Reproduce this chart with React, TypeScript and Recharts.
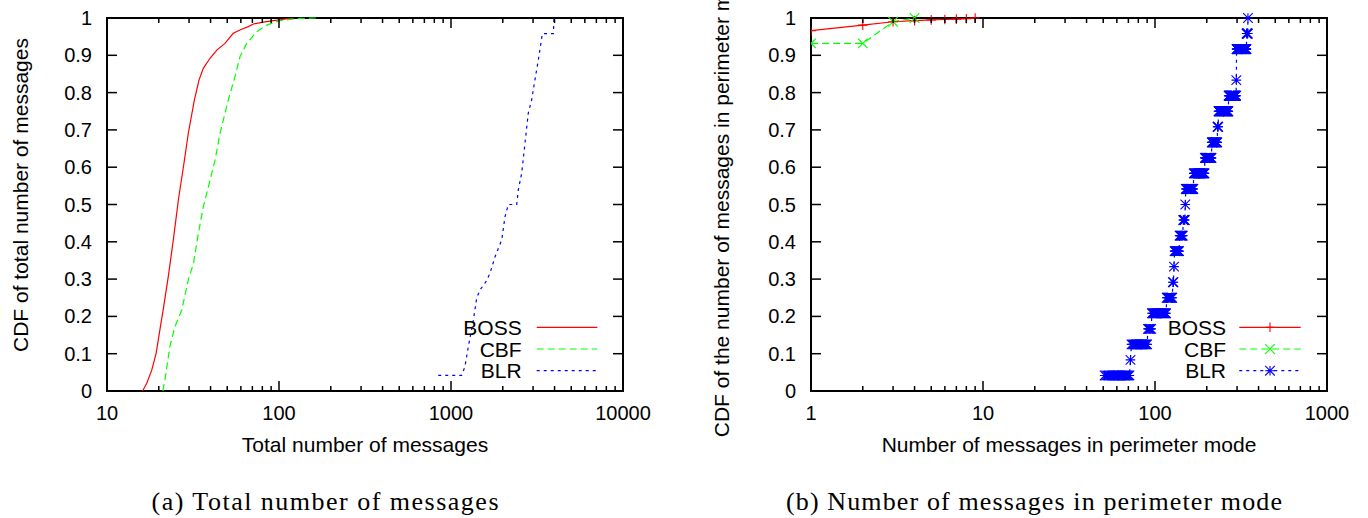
import React from 'react';
import { LineChart, Line, XAxis, YAxis, Legend, ReferenceArea } from 'recharts';

const SANS = '"Liberation Sans", Arial, Helvetica, sans-serif';
const SERIF = '"Liberation Serif", "Times New Roman", serif';

const RED = '#ff0000';
const GREEN = '#00ff00';
const BLUE = '#0000ff';

// ---------------- Panel (a): total number of messages ----------------
const bossTotalX = [16.1, 17.0, 18.2, 19.3, 20.3, 21.2, 22.7, 24.3, 26.0, 28.0, 29.7, 32.2, 34.3, 36.3, 39.7, 43.5, 48.5, 54.2, 60.6, 66.3, 70.9, 81.1, 92.6, 121];
const bossTotalCdf = [0, 0.02, 0.056, 0.101, 0.164, 0.217, 0.306, 0.405, 0.512, 0.61, 0.691, 0.78, 0.834, 0.865, 0.892, 0.914, 0.932, 0.959, 0.97, 0.977, 0.984, 0.989, 0.993, 1.0];

const cbfTotalX = [21.1, 21.7, 23.2, 24.8, 27.2, 29.7, 31.8, 34.0, 36.3, 38.0, 42.5, 45.4, 50.7, 55.5, 59.3, 64.9, 74.1, 84.7, 101, 132, 166];
const cbfTotalCdf = [0, 0.029, 0.119, 0.172, 0.217, 0.298, 0.342, 0.423, 0.494, 0.53, 0.619, 0.691, 0.78, 0.843, 0.896, 0.932, 0.963, 0.981, 0.993, 0.999, 1.0];

const blrTotalX = [843, 1153, 1205, 1261, 1349, 1410, 1475, 1597, 1686, 1803, 1972, 2060, 2154, 2410, 2462, 2576, 2692, 2814, 2942, 3076, 3218, 3397, 3936, 3971];
const blrTotalCdf = [0.042, 0.042, 0.065, 0.119, 0.19, 0.249, 0.271, 0.293, 0.316, 0.36, 0.405, 0.467, 0.5, 0.5, 0.539, 0.584, 0.664, 0.745, 0.78, 0.834, 0.887, 0.958, 0.958, 1.0];

// ---------------- Panel (b): messages in perimeter mode ----------------
const bossPerimX = [1, 2, 3, 4, 5, 6, 7, 8, 9];
const bossPerimCdf = [0.966, 0.981, 0.99, 0.993, 0.995, 0.996, 0.997, 0.998, 1.0];

const cbfPerimX = [1, 2, 3, 4];
const cbfPerimCdf = [0.932, 0.932, 0.99, 1.0];

// BLR per-node sample values (CDF is plotted at every integer between min and max)
const blrPerimSamples = [51, 72, 73, 91, 96, 117, 127, 129, 130, 139, 146, 150, 151, 168, 195, 214, 231, 234, 268, 297, 298, 298, 341, 347];

// ---------------- Ticks ----------------
const totalTicks = [10, 20, 30, 40, 50, 60, 70, 80, 90, 100, 200, 300, 400, 500, 600, 700, 800, 900, 1000, 2000, 3000, 4000, 5000, 6000, 7000, 8000, 9000, 10000];
const totalMajor = [10, 100, 1000, 10000];
const perimTicks = [1, 2, 3, 4, 5, 6, 7, 8, 9, 10, 20, 30, 40, 50, 60, 70, 80, 90, 100, 200, 300, 400, 500, 600, 700, 800, 900, 1000];
const perimMajor = [1, 10, 100, 1000];
const cdfTicks = [0, 0.1, 0.2, 0.3, 0.4, 0.5, 0.6, 0.7, 0.8, 0.9, 1];
const cdfLabels = ['0', '0.1', '0.2', '0.3', '0.4', '0.5', '0.6', '0.7', '0.8', '0.9', '1'];

const toPoints = (xs: number[], ys: number[]) => xs.map((x, i) => ({ x, y: ys[i] }));
const ecdfOnIntegerGrid = (samples: number[]) => {
  const n = samples.length;
  const pts: { x: number; y: number }[] = [];
  for (let v = samples[0]; v <= samples[n - 1]; v++) {
    let c = 0;
    for (const s of samples) if (s <= v) c++;
    pts.push({ x: v, y: c / n });
  }
  return pts;
};

const PLOT_W = 516;
const PLOT_H = 373;

type Kind = 'plus' | 'cross' | 'star' | undefined;

function Marker({ cx, cy, kind, color }: { cx: number; cy: number; kind: Kind; color: string }) {
  const s = 4.8;
  const plus = `M${cx - s},${cy}H${cx + s}M${cx},${cy - s}V${cy + s}`;
  const cross = `M${cx - s},${cy - s}L${cx + s},${cy + s}M${cx - s},${cy + s}L${cx + s},${cy - s}`;
  const d = kind === 'plus' ? plus : kind === 'cross' ? cross : plus + cross;
  return <path d={d} stroke={color} strokeWidth={1.1} fill="none" />;
}

function XTick(props: any) {
  const { x, y, payload, major } = props;
  const v = payload.value;
  const isMajor = major.includes(v);
  const len = isMajor ? 10 : 5;
  return (
    <g>
      <line x1={x} x2={x} y1={y} y2={y - len} stroke="#000" strokeWidth={1.5} />
      <line x1={x} x2={x} y1={y - PLOT_H} y2={y - PLOT_H + len} stroke="#000" strokeWidth={1.5} />
      {isMajor && (
        <text x={x} y={y + 29} textAnchor="middle" fontFamily={SANS} fontSize={20} fill="#000">
          {v}
        </text>
      )}
    </g>
  );
}

function YTick(props: any) {
  const { x, y, payload } = props;
  const idx = cdfTicks.indexOf(payload.value);
  return (
    <g>
      <line x1={x} x2={x + 10} y1={y} y2={y} stroke="#000" strokeWidth={1.5} />
      <line x1={x + PLOT_W} x2={x + PLOT_W - 10} y1={y} y2={y} stroke="#000" strokeWidth={1.5} />
      <text x={x - 15} y={y + 7} textAnchor="end" fontFamily={SANS} fontSize={20} fill="#000">
        {cdfLabels[idx]}
      </text>
    </g>
  );
}

type SeriesDef = { name: string; color: string; dash?: string; marker?: Kind; data: { x: number; y: number }[] };

type LegendCfg = { left: number; top: number; width: number; height: number; textEnd: number; lineStart: number; lineEnd: number; markerX: number; rows: number[] };

function LegendBox({ payload, series, cfg }: { payload: any[]; series: SeriesDef[]; cfg: LegendCfg }) {
  const entries = series
    .map((s) => ({ s, entry: (payload || []).find((e: any) => e.value === s.name) }))
    .filter((d) => d.entry);
  return (
    <svg width={cfg.width} height={cfg.height} style={{ overflow: 'visible', display: 'block' }}>
      {entries.map(({ s, entry }: any, i: number) => {
        const ry = cfg.rows[i];
        return (
          <g key={entry.value}>
            <text x={cfg.textEnd} y={ry + 7.5} textAnchor="end" fontFamily={SANS} fontSize={21} fill="#000">
              {entry.value}
            </text>
            <line x1={cfg.lineStart} x2={cfg.lineEnd} y1={ry} y2={ry} stroke={entry.color} strokeWidth={1.2} strokeDasharray={s.dash} />
            {s.marker && <Marker cx={cfg.markerX} cy={ry} kind={s.marker} color={entry.color} />}
          </g>
        );
      })}
    </svg>
  );
}

type PanelProps = {
  margin: { top: number; right: number; bottom: number; left: number };
  xDomain: [number, number];
  xTicks: number[];
  xMajor: number[];
  xTitle: string;
  yTitle: string;
  yTitleCenter: number;
  yTitleOffset: number;
  series: SeriesDef[];
  legend: LegendCfg;
};

function Panel(p: PanelProps) {
  return (
    <LineChart width={684} height={518} margin={p.margin}>
      <XAxis
        type="number"
        dataKey="x"
        scale="log"
        domain={p.xDomain}
        ticks={p.xTicks}
        interval={0}
        height={1}
        tickSize={0}
        tickMargin={0}
        axisLine={false}
        tickLine={false}
        allowDataOverflow
        tick={(tp: any) => <XTick {...tp} major={p.xMajor} />}
        label={(lp: any) => {
          const vb = lp.viewBox || {};
          return (
            <text x={vb.x + vb.width / 2} y={vb.y + 61} textAnchor="middle" fontFamily={SANS} fontSize={21} fill="#000">
              {p.xTitle}
            </text>
          );
        }}
      />
      <YAxis
        type="number"
        domain={[0, 1]}
        ticks={cdfTicks}
        interval={0}
        width={1}
        tickSize={0}
        tickMargin={0}
        axisLine={false}
        tickLine={false}
        tick={(tp: any) => <YTick {...tp} />}
        label={(lp: any) => {
          const vb = lp.viewBox || {};
          const cx = vb.x + (vb.width || 0) - p.yTitleOffset;
          const cy = vb.y + p.yTitleCenter;
          return (
            <text x={cx} y={cy} transform={`rotate(-90, ${cx}, ${cy})`} textAnchor="middle" fontFamily={SANS} fontSize={21} fill="#000">
              {p.yTitle}
            </text>
          );
        }}
      />
      <ReferenceArea x1={p.xDomain[0]} x2={p.xDomain[1]} y1={0} y2={1} fill="none" fillOpacity={0} stroke="#000" strokeWidth={2} />
      {p.series.map((s) => (
        <Line
          key={s.name}
          data={s.data}
          dataKey="y"
          name={s.name}
          type="linear"
          stroke={s.color}
          strokeWidth={1.2}
          strokeDasharray={s.dash}
          isAnimationActive={false}
          activeDot={false}
          dot={
            s.marker
              ? (dp: any) => <Marker key={`m-${s.name}-${dp.index}`} cx={dp.cx} cy={dp.cy} kind={s.marker} color={s.color} />
              : false
          }
        />
      ))}
      <Legend
        layout="vertical"
        align="center"
        verticalAlign="middle"
        wrapperStyle={{ left: p.legend.left, top: p.legend.top, width: p.legend.width, height: p.legend.height }}
        content={(lp: any) => <LegendBox payload={lp.payload} series={p.series} cfg={p.legend} />}
      />
    </LineChart>
  );
}

const seriesA: SeriesDef[] = [
  { name: 'BOSS', color: RED, data: toPoints(bossTotalX, bossTotalCdf) },
  { name: 'CBF', color: GREEN, dash: '7 4', data: toPoints(cbfTotalX, cbfTotalCdf) },
  { name: 'BLR', color: BLUE, dash: '3 4', data: toPoints(blrTotalX, blrTotalCdf) },
];

const seriesB: SeriesDef[] = [
  { name: 'BOSS', color: RED, marker: 'plus', data: toPoints(bossPerimX, bossPerimCdf) },
  { name: 'CBF', color: GREEN, dash: '7 4', marker: 'cross', data: toPoints(cbfPerimX, cbfPerimCdf) },
  { name: 'BLR', color: BLUE, dash: '3 4', marker: 'star', data: ecdfOnIntegerGrid(blrPerimSamples) },
];

export default function App() {
  return (
    <div style={{ position: 'absolute', left: 0, top: 0, width: 1368, height: 518, background: '#fff', overflow: 'hidden' }}>
      <div style={{ position: 'absolute', left: 0, top: 0 }}>
        <Panel
          margin={{ top: 18, right: 61, bottom: 126, left: 106 }}
          xDomain={[10, 10000]}
          xTicks={totalTicks}
          xMajor={totalMajor}
          xTitle="Total number of messages"
          yTitle="CDF of total number of messages"
          yTitleCenter={177}
          yTitleOffset={79.5}
          series={seriesA}
          legend={{ left: 455, top: 312, width: 150, height: 70, textEnd: 66.7, lineStart: 81.7, lineEnd: 142.3, markerX: 112, rows: [15.3, 37, 58.7] }}
        />
      </div>
      <div style={{ position: 'absolute', left: 684, top: 0 }}>
        <Panel
          margin={{ top: 18, right: 41, bottom: 126, left: 126 }}
          xDomain={[1, 1000]}
          xTicks={perimTicks}
          xMajor={perimMajor}
          xTitle="Number of messages in perimeter mode"
          yTitle="CDF of the number of messages in perimeter mode"
          yTitleCenter={180}
          yTitleOffset={82}
          series={seriesB}
          legend={{ left: 470, top: 312, width: 160, height: 70, textEnd: 72, lineStart: 85.3, lineEnd: 146.7, markerX: 116, rows: [15.3, 37, 58.7] }}
        />
      </div>
      <svg style={{ position: 'absolute', left: 0, top: 0, pointerEvents: 'none' }} width={1368} height={518}>
        <text x={325} y={510} textAnchor="middle" fontFamily={SERIF} fontSize={26} fill="#000" textLength={347} lengthAdjust="spacing">
          (a) Total number of messages
        </text>
        <text x={1034} y={510} textAnchor="middle" fontFamily={SERIF} fontSize={26} fill="#000" textLength={496} lengthAdjust="spacing">
          (b) Number of messages in perimeter mode
        </text>
      </svg>
    </div>
  );
}
